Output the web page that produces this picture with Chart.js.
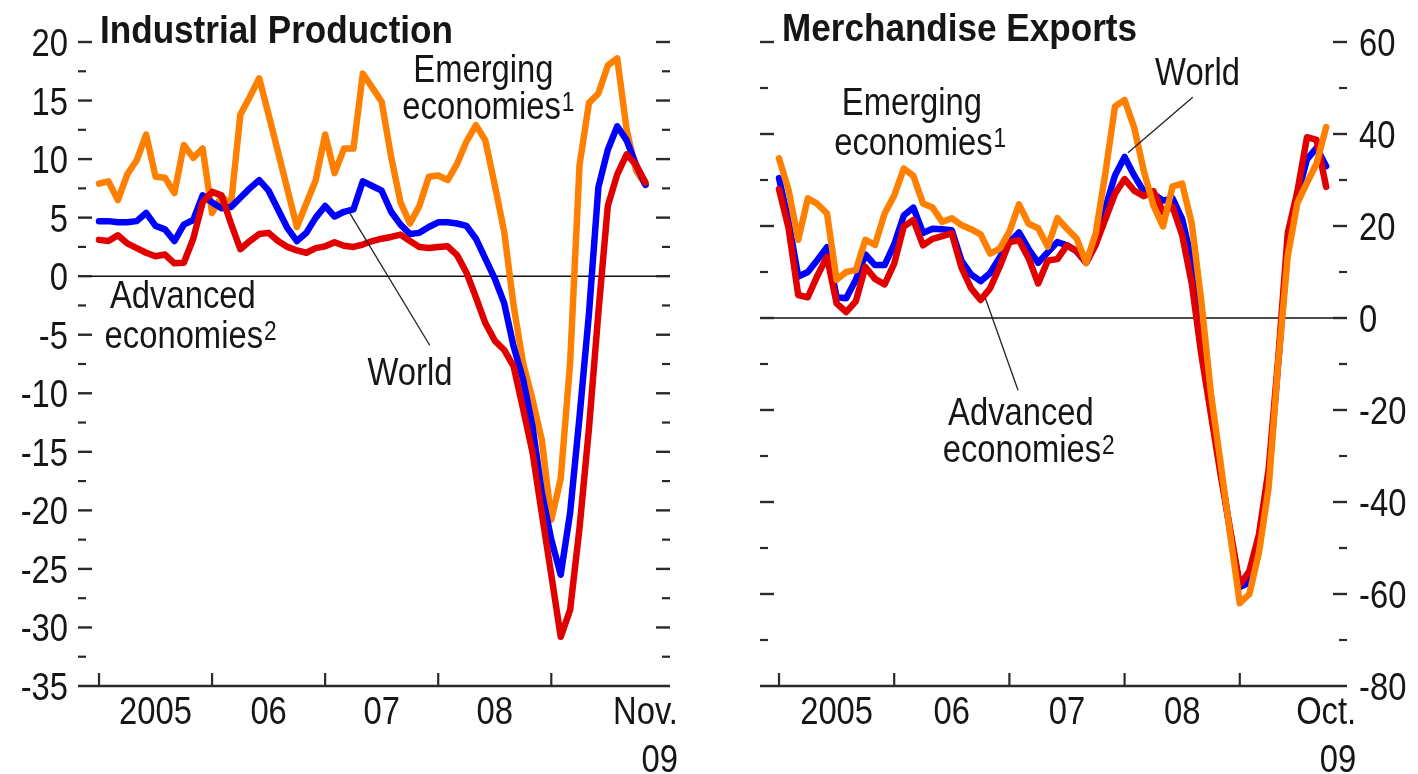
<!DOCTYPE html>
<html><head><meta charset="utf-8">
<script src="https://cdn.jsdelivr.net/npm/chart.js@4.4.1/dist/chart.umd.min.js"></script>
<style>
html,body{margin:0;padding:0;background:#fff;overflow:hidden;}
#wrap{position:relative;width:1418px;height:774px;background:#fff;}
canvas{position:absolute;top:0;}
#c1{left:0;} #c2{left:709px;}
</style></head><body>
<div id="wrap"><canvas id="c1" width="709" height="774"></canvas><canvas id="c2" width="709" height="774"></canvas></div>
<script>
// ---------- DATA ----------
// Month index 0 = Jan 2005
const ipStart = [2005, 1];           // Industrial production: Jan 2005 .. Nov 2009
const exStart = [2005, 1];           // Merchandise exports: Jan 2005 .. Oct 2009

const ipEmerging = [7.9, 8.1, 6.5, 8.7, 9.9, 12.1, 8.5, 8.4, 7.1, 11.2,
  10.1, 10.9, 5.4, 6.8, 6.1, 13.8, 15.3, 16.9, 13.8, 10.6,
  7.4, 4.2, 6.2, 8.2, 12.1, 8.8, 10.9, 10.9, 17.3, 16.1,
  14.9, 10.2, 6.3, 4.5, 6.0, 8.5, 8.6, 8.2, 9.6, 11.5,
  12.9, 11.6, 7.8, 3.8, -2.5, -7.4, -10.5, -14.0, -20.8, -17.3,
  -7.4, 9.5, 14.8, 15.6, 18.0, 18.6, 12.5, 9.0, 7.8];
const ipWorld = [4.7, 4.7, 4.6, 4.6, 4.7, 5.4, 4.3, 4.0, 3.0, 4.4,
  4.8, 6.9, 6.3, 5.8, 5.9, 6.7, 7.5, 8.2, 7.3, 5.7,
  4.1, 3.0, 3.7, 5.0, 6.0, 5.1, 5.5, 5.7, 8.1, 7.7,
  7.3, 5.5, 4.4, 3.6, 3.7, 4.2, 4.6, 4.6, 4.5, 4.3,
  3.2, 1.5, -0.2, -2.3, -6.0, -8.8, -12.8, -18.5, -22.5, -25.5,
  -20.2, -12.0, -3.2, 7.6, 10.8, 12.8, 11.6, 9.5, 7.8];
const ipAdvanced = [3.1, 3.0, 3.5, 2.8, 2.4, 2.0, 1.7, 1.85, 1.1, 1.15,
  3.2, 6.3, 7.2, 6.9, 4.5, 2.3, 3.0, 3.6, 3.7, 3.0,
  2.5, 2.2, 2.0, 2.4, 2.55, 2.9, 2.6, 2.5, 2.7, 3.0,
  3.2, 3.35, 3.55, 3.0, 2.5, 2.4, 2.5, 2.55, 1.8, 0.3,
  -1.8, -4.0, -5.5, -6.3, -7.7, -11.3, -15.0, -20.3, -25.5, -30.8,
  -28.5, -21.5, -13.0, -3.1, 6.0, 8.7, 10.4, 9.5, 8.0];

const exEmerging = [34.7, 27.8, 17.0, 26.0, 24.8, 22.7, 8.3, 10.0, 10.4, 17.0,
  15.9, 22.7, 26.6, 32.5, 30.9, 24.9, 24.0, 20.9, 21.7, 20.2,
  19.3, 18.2, 14.0, 15.1, 18.8, 24.7, 20.5, 19.5, 15.5, 21.7,
  19.4, 17.3, 12.0, 18.5, 31.5, 46.0, 47.4, 41.4, 32.0, 24.5,
  19.9, 28.6, 29.2, 20.5, 3.5, -16.5, -31.5, -47.0, -62.0, -60.0,
  -51.0, -37.0, -10.0, 13.5, 25.0, 29.4, 33.6, 41.5];
const exWorld = [30.4, 21.0, 9.0, 10.0, 12.6, 15.4, 4.5, 4.3, 8.3, 13.8,
  11.5, 11.5, 16.0, 22.3, 24.0, 18.5, 19.4, 19.3, 19.1, 12.5,
  9.5, 8.0, 9.8, 13.2, 16.5, 18.6, 15.0, 12.0, 14.3, 16.5,
  15.8, 14.5, 12.0, 16.0, 24.0, 31.0, 35.0, 31.0, 27.5, 27.0,
  25.5, 26.0, 21.5, 12.5, -3.0, -18.5, -33.0, -46.5, -58.5, -57.5,
  -49.0, -35.0, -10.0, 16.0, 26.5, 34.5, 37.0, 33.0];
const exAdvanced = [28.0, 19.5, 5.0, 4.5, 9.2, 13.3, 3.2, 1.3, 3.6, 11.1,
  8.5, 7.3, 11.8, 19.9, 21.3, 15.8, 17.2, 17.8, 18.4, 11.0,
  6.5, 3.9, 6.5, 11.2, 16.5, 16.9, 13.0, 7.5, 12.5, 12.8,
  15.8, 14.6, 12.0, 16.0, 21.5, 27.0, 30.2, 27.7, 26.5, 27.6,
  23.0, 24.2, 18.0, 7.5, -8.0, -21.0, -34.0, -46.0, -58.0, -55.0,
  -47.0, -33.0, -9.0, 18.5, 27.5, 39.3, 38.7, 28.5];

const ipYTicks = [20, 15, 10, 5, 0, -5, -10, -15, -20, -25, -30, -35];
const exYTicks = [60, 40, 20, 0, -20, -40, -60, -80];
const yearTickMonths = [0, 12, 24, 36, 48];
const yearLabels = ['2005', '06', '07', '08'];
const yearLabelMonths = [6, 18, 30, 42];
const ipEndLabel = ['Nov.', '09'];
const exEndLabel = ['Oct.', '09'];
const seriesNames = ['Emerging economies', 'World', 'Advanced economies'];
const seriesColors = { emerging: '#ff8000', world: '#0000ff', advanced: '#e00000' };

function monthLabels(start, n) {
  const out = [];
  for (let i = 0; i < n; i++) {
    const m = (start[1] - 1 + i);
    out.push((start[0] + Math.floor(m / 12)) + '-' + String(m % 12 + 1).padStart(2, '0'));
  }
  return out;
}
const ipMonths = monthLabels(ipStart, ipWorld.length);
const exMonths = monthLabels(exStart, exWorld.length);

// ---------- DRAW HELPERS ----------
const FONT = '"Liberation Sans", Arial, Helvetica, sans-serif';
const SX = 0.84;
const TXT = '#161616';
function drawText(ctx, s, x, y, size, opts) {
  opts = opts || {};
  const sx = opts.sx || SX;
  ctx.save();
  ctx.font = (opts.bold ? 'bold ' : '') + size + 'px ' + FONT;
  ctx.fillStyle = opts.color || TXT;
  ctx.textBaseline = 'alphabetic';
  ctx.textAlign = 'left';
  const w = ctx.measureText(s).width * sx;
  let left = x;
  if (opts.align === 'center') left = x - w / 2;
  else if (opts.align === 'right') left = x - w;
  ctx.translate(left, y);
  ctx.scale(sx, 1);
  ctx.fillText(s, 0, 0);
  ctx.restore();
  return { left: left, right: left + w, w: w };
}
function line(ctx, x1, y1, x2, y2, w, c) {
  ctx.save();
  ctx.beginPath();
  ctx.moveTo(x1, y1); ctx.lineTo(x2, y2);
  ctx.lineWidth = w; ctx.strokeStyle = c; ctx.lineCap = 'butt';
  ctx.stroke();
  ctx.restore();
}

const LABEL_SIZE = 39, SUP_SIZE = 27, TICK_SIZE = 39, TITLE_SIZE = 39;

function decor(cfg) {
  return {
    id: 'decor' + cfg.id,
    beforeDatasetsDraw(chart) {
      const ctx = chart.ctx, a = chart.chartArea, xs = chart.scales.x, ys = chart.scales.y;
      const y0 = ys.getPixelForValue(0);
      line(ctx, a.left, y0, a.right, y0, 1.6, '#111');
      for (let v = cfg.yMax; v >= cfg.yMin; v -= cfg.minorStep) {
        const isMajor = Math.abs((v - cfg.yMin) % cfg.majorStep) < 1e-6;
        const y = ys.getPixelForValue(v);
        if (Math.abs(y - a.bottom) < 1) continue;
        const len = isMajor ? 14 : 8;
        line(ctx, a.left, y, a.left + len, y, isMajor ? 2.4 : 2.2, '#2a2a2a');
        line(ctx, a.right - len, y, a.right, y, isMajor ? 2.4 : 2.2, '#2a2a2a');
      }
      line(ctx, a.left, a.bottom, a.right, a.bottom, 2.6, '#2a2a2a');
      yearTickMonths.forEach(m => {
        const x = xs.getPixelForValue(m);
        line(ctx, x, a.bottom, x, a.bottom - 13, 2.2, '#2a2a2a');
      });
    },
    afterDatasetsDraw(chart) {
      const ctx = chart.ctx, a = chart.chartArea, xs = chart.scales.x, ys = chart.scales.y;
      cfg.yTicks.forEach(v => {
        const y = ys.getPixelForValue(v) + 14;
        if (cfg.labelSide === 'left') drawText(ctx, String(v), a.left - 10, y, TICK_SIZE, { align: 'right' });
        else drawText(ctx, String(v), a.right + 12, y, TICK_SIZE, { align: 'left' });
      });
      const by = a.bottom + 38;
      yearLabels.forEach((t, i) => drawText(ctx, t, xs.getPixelForValue(yearLabelMonths[i]), by, TICK_SIZE, { align: 'center' }));
      const r = drawText(ctx, cfg.endLabel[0], xs.getPixelForValue(cfg.endMonth), by, TICK_SIZE, { align: 'center' });
      drawText(ctx, cfg.endLabel[1], r.right, by + 48, TICK_SIZE, { align: 'right' });
      drawText(ctx, cfg.title, a.left + 22, a.top + cfg.titleDy, TITLE_SIZE, { bold: true, sx: 0.9 });
      cfg.leaders.forEach(l => {
        line(ctx, xs.getPixelForValue(l[0]), ys.getPixelForValue(l[1]), xs.getPixelForValue(l[2]), ys.getPixelForValue(l[3]), 1.3, '#222');
      });
      cfg.notes.forEach(n => {
        const r2 = drawText(ctx, n.text, xs.getPixelForValue(n.x), ys.getPixelForValue(n.y), LABEL_SIZE, { align: 'center' });
        if (n.sup) drawText(ctx, n.sup, r2.right + 1, ys.getPixelForValue(n.y) - 8, SUP_SIZE, { align: 'left' });
      });
    }
  };
}

function makeChart(cfg) {
  const ds = cfg.series.map(s => ({
    label: s.label,
    data: s.values.map((v, i) => ({ x: i, y: v })),
    borderColor: s.color,
    backgroundColor: s.color,
    borderWidth: 6.5,
    pointRadius: 0,
    tension: 0,
    fill: false,
    borderJoinStyle: 'round',
    borderCapStyle: 'round'
  }));
  return new Chart(document.getElementById(cfg.id), {
    type: 'line',
    data: { labels: cfg.labels, datasets: ds },
    options: {
      responsive: false, animation: false, devicePixelRatio: 1,
      layout: { padding: cfg.padding },
      plugins: { legend: { display: false }, tooltip: { enabled: false }, title: { display: false } },
      scales: {
        x: { type: 'linear', min: cfg.xMin, max: cfg.xMax, display: false },
        y: { type: 'linear', min: cfg.yMin, max: cfg.yMax, display: false }
      }
    },
    plugins: [decor(cfg)]
  });
}

// Left: Industrial Production (dataset 0 drawn on top)
makeChart({
  id: 'c1', title: 'Industrial Production', titleDy: 1,
  labels: ipMonths,
  series: [
    { label: seriesNames[2], values: ipAdvanced, color: seriesColors.advanced },
    { label: seriesNames[1], values: ipWorld, color: seriesColors.world },
    { label: seriesNames[0], values: ipEmerging, color: seriesColors.emerging }
  ],
  padding: { left: 78, right: 39, top: 42, bottom: 88 },
  xMin: -2.23, xMax: 60.6, yMin: -35, yMax: 20, majorStep: 5, minorStep: 2.5,
  yTicks: ipYTicks, labelSide: 'left', endMonth: 58, endLabel: ipEndLabel,
  leaders: [[26.6, 5.4, 35.1, -5.9]],
  notes: [
    { text: 'Emerging', x: 40.8, y: 16.6 },
    { text: 'economies', sup: '1', x: 40.6, y: 13.4 },
    { text: 'Advanced', x: 8.9, y: -2.7 },
    { text: 'economies', sup: '2', x: 9.0, y: -6.1 },
    { text: 'World', x: 33.0, y: -9.3 }
  ]
});

// Right: Merchandise Exports
makeChart({
  id: 'c2', title: 'Merchandise Exports', titleDy: -1,
  labels: exMonths,
  series: [
    { label: seriesNames[0], values: exEmerging, color: seriesColors.emerging },
    { label: seriesNames[2], values: exAdvanced, color: seriesColors.advanced },
    { label: seriesNames[1], values: exWorld, color: seriesColors.world }
  ],
  padding: { left: 51, right: 71, top: 42, bottom: 88 },
  xMin: -1.98, xMax: 59.17, yMin: -80, yMax: 60, majorStep: 20, minorStep: 10,
  yTicks: exYTicks, labelSide: 'right', endMonth: 57, endLabel: exEndLabel,
  leaders: [[36.35, 35.9, 43.1, 48.0], [21.5, 4.3, 24.9, -15.7]],
  notes: [
    { text: 'Emerging', x: 13.85, y: 44.1 },
    { text: 'economies', sup: '1', x: 14.0, y: 35.4 },
    { text: 'World', x: 43.6, y: 50.7 },
    { text: 'Advanced', x: 25.2, y: -23.3 },
    { text: 'economies', sup: '2', x: 25.3, y: -31.3 }
  ]
});
</script>
</body></html>
